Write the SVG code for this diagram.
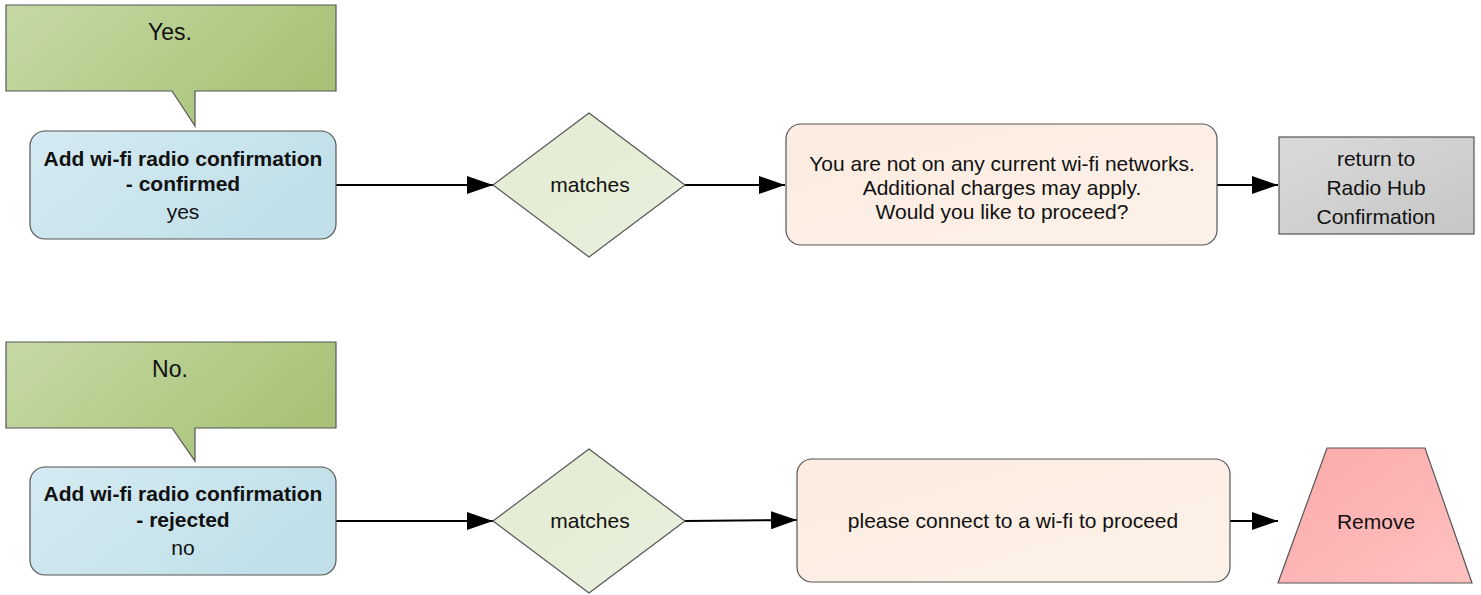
<svg xmlns="http://www.w3.org/2000/svg" width="1481" height="595" viewBox="0 0 1481 595">
<defs>
<linearGradient id="gCallout" x1="0" y1="0" x2="1" y2="0.4">
<stop offset="0" stop-color="#c6d9a5"/><stop offset="1" stop-color="#a8c378"/>
</linearGradient>
<linearGradient id="gBlue" x1="0" y1="0" x2="1" y2="0.4">
<stop offset="0" stop-color="#d5eaf2"/><stop offset="1" stop-color="#c1e0e9"/>
</linearGradient>
<linearGradient id="gDia" x1="0" y1="0" x2="1" y2="1">
<stop offset="0" stop-color="#e3ecd3"/><stop offset="1" stop-color="#e9efdc"/>
</linearGradient>
<linearGradient id="gOrange" x1="0" y1="0" x2="1" y2="1">
<stop offset="0" stop-color="#fcece1"/><stop offset="1" stop-color="#fdf1e8"/>
</linearGradient>
<linearGradient id="gGray" x1="0" y1="0" x2="1" y2="1">
<stop offset="0" stop-color="#dadada"/><stop offset="1" stop-color="#c6c6c6"/>
</linearGradient>
<linearGradient id="gRed" x1="0" y1="0" x2="1" y2="1">
<stop offset="0" stop-color="#fca9a9"/><stop offset="1" stop-color="#ffc1c1"/>
</linearGradient>
<marker id="arr" markerWidth="26" markerHeight="18" refX="26" refY="9" orient="auto" markerUnits="userSpaceOnUse">
<path d="M0,0 L26,9 L0,18 Z" fill="#000"/>
</marker>
</defs>
<style>
text{font-family:"Liberation Sans",Arial,sans-serif;fill:#111;text-anchor:middle}
.t{font-size:21px}
.b{font-size:21px;font-weight:bold}
.c{font-size:23px}
.sh{stroke:#555;stroke-width:1.2}
.cn{stroke:#000;stroke-width:2;fill:none;marker-end:url(#arr)}
</style>

<g id="connectors">
<line class="cn" x1="336" y1="185" x2="493" y2="185"/>
<line class="cn" x1="685" y1="185" x2="785" y2="185"/>
<line class="cn" x1="1217" y1="185" x2="1278" y2="185"/>
<line class="cn" x1="336" y1="521" x2="493" y2="521"/>
<line class="cn" x1="685" y1="521" x2="797" y2="520"/>
<line class="cn" x1="1230" y1="521" x2="1278" y2="521"/>
</g>

<g id="callout-yes">
<path class="sh" fill="url(#gCallout)" d="M6,5 H336 V91 H195 V126 L172,91 H6 Z"/>
<text class="c" x="170" y="40">Yes.</text>
</g>
<g id="confirmed">
<rect class="sh" fill="url(#gBlue)" x="30" y="131" width="306" height="108" rx="15"/>
<text class="b" x="183" y="166">Add wi-fi radio confirmation</text>
<text class="b" x="183" y="191">- confirmed</text>
<text class="t" x="183" y="219">yes</text>
</g>
<g id="matches-1">
<path class="sh" fill="url(#gDia)" d="M589,113 L685,185 L589,257 L493,185 Z"/>
<text class="t" x="590" y="192">matches</text>
</g>
<g id="msg-1">
<rect class="sh" fill="url(#gOrange)" x="786" y="124" width="431" height="121" rx="15"/>
<text class="t" x="1002" y="171">You are not on any current wi-fi networks.</text>
<text class="t" x="1002" y="195">Additional charges may apply.</text>
<text class="t" x="1002" y="219">Would you like to proceed?</text>
</g>
<g id="return">
<rect class="sh" fill="url(#gGray)" x="1279" y="137" width="195" height="97"/>
<text class="t" x="1376" y="166">return to</text>
<text class="t" x="1376" y="195">Radio Hub</text>
<text class="t" x="1376" y="224">Confirmation</text>
</g>

<g id="callout-no">
<path class="sh" fill="url(#gCallout)" d="M6,342 H336 V428 H195 V461 L172,428 H6 Z"/>
<text class="c" x="170" y="377">No.</text>
</g>
<g id="rejected">
<rect class="sh" fill="url(#gBlue)" x="30" y="467" width="306" height="108" rx="15"/>
<text class="b" x="183" y="501">Add wi-fi radio confirmation</text>
<text class="b" x="183" y="527">- rejected</text>
<text class="t" x="183" y="555">no</text>
</g>
<g id="matches-2">
<path class="sh" fill="url(#gDia)" d="M589,449 L685,521 L589,593 L493,521 Z"/>
<text class="t" x="590" y="528">matches</text>
</g>
<g id="msg-2">
<rect class="sh" fill="url(#gOrange)" x="797" y="459" width="433" height="123" rx="15"/>
<text class="t" x="1013" y="528">please connect to a wi-fi to proceed</text>
</g>
<g id="remove">
<path class="sh" fill="url(#gRed)" d="M1327,448 H1425 L1472,583 H1278 Z"/>
<text class="t" x="1376" y="529">Remove</text>
</g>
</svg>
